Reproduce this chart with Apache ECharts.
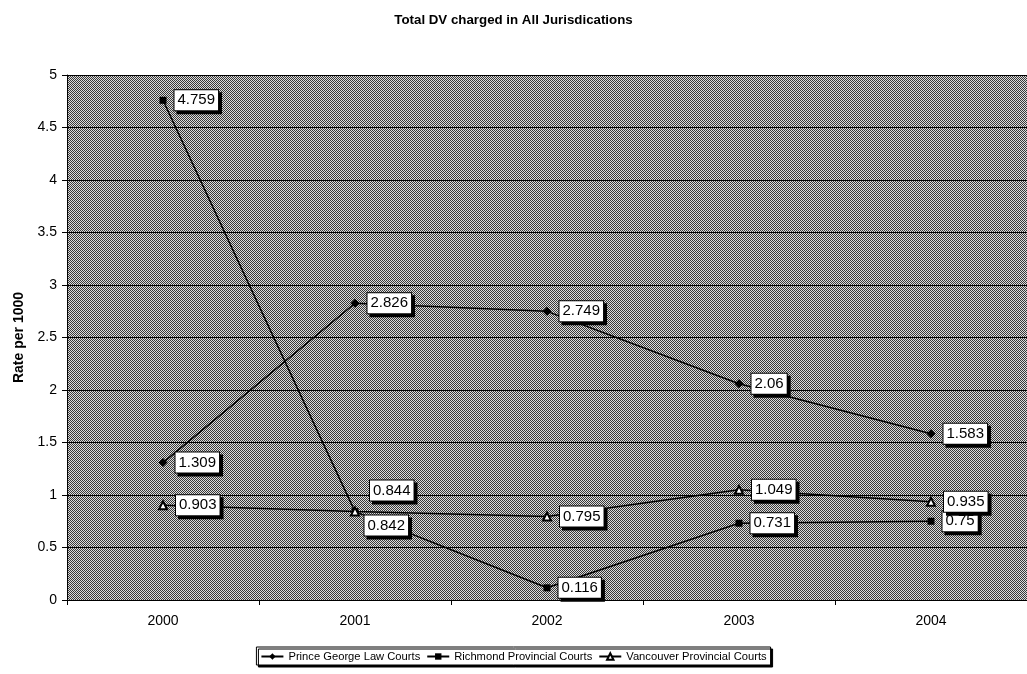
<!DOCTYPE html>
<html>
<head>
<meta charset="utf-8">
<title>Total DV charged in All Jurisdications</title>
<script src="https://cdn.jsdelivr.net/npm/echarts@6/dist/echarts.min.js"></script>
<style>
  html, body { margin: 0; padding: 0; background: #ffffff; }
  #chart { width: 1027px; height: 674px; }
</style>
</head>
<body>
<div id="chart"></div>
<script>
// Years on the category axis
const years = ['2000', '2001', '2002', '2003', '2004'];

// Rate per 1000, by court
const princeGeorge = [1.309, 2.826, 2.749, 2.06, 1.583];
const richmond = [4.759, 0.842, 0.116, 0.731, 0.75];
const vancouver = [0.903, 0.844, 0.795, 1.049, 0.935];

const seriesNames = [
  'Prince George Law Courts',
  'Richmond Provincial Courts',
  'Vancouver Provincial Courts'
];

const FONT = 'Arial, "Liberation Sans", Helvetica, sans-serif';

// Dithered grey fill for the plot area
function ditherPattern() {
  const c = document.createElement('canvas');
  c.width = 4; c.height = 4;
  const g = c.getContext('2d');
  for (let y = 0; y < 4; y++) {
    for (let x = 0; x < 4; x++) {
      g.fillStyle = ((x + y) % 2 === 0) ? '#383838' : '#dcdcdc';
      g.fillRect(x, y, 1, 1);
    }
  }
  return { image: c, repeat: 'repeat' };
}

// White value boxes with a hard drop shadow
const valueLabel = {
  show: true,
  position: 'right',
  distance: 8,
  color: '#000',
  fontFamily: FONT,
  fontSize: 15,
  backgroundColor: '#ffffff',
  borderColor: '#000',
  borderWidth: 1,
  padding: [3, 3, 2, 3],
  shadowColor: '#000',
  shadowBlur: 0,
  shadowOffsetX: 3,
  shadowOffsetY: 3
};

function withLabelOffsets(values, offsets) {
  return values.map((v, i) => {
    if (offsets[i]) {
      return { value: v, label: { offset: offsets[i] } };
    }
    return v;
  });
}

const chart = echarts.init(document.getElementById('chart'), null, { renderer: 'canvas' });

chart.setOption({
  animation: false,
  backgroundColor: '#ffffff',
  title: {
    text: 'Total DV charged in All Jurisdications',
    left: 'center',
    top: 9,
    textStyle: { fontFamily: FONT, fontSize: 13.3, fontWeight: 'bold', color: '#000' }
  },
  grid: {
    left: 67,
    top: 75,
    width: 963,
    height: 525,
    show: true,
    backgroundColor: ditherPattern(),
    borderWidth: 0
  },
  legend: {
    data: seriesNames,
    left: 'center',
    top: 647,
    itemWidth: 22,
    itemHeight: 8,
    itemGap: 6,
    padding: [4, 4, 3, 4],
    borderColor: '#000',
    borderWidth: 1,
    backgroundColor: '#fff',
    shadowColor: '#000',
    shadowBlur: 0,
    shadowOffsetX: 2,
    shadowOffsetY: 2,
    textStyle: { fontFamily: FONT, fontSize: 11.2, color: '#000' }
  },
  xAxis: {
    type: 'category',
    data: years,
    boundaryGap: true,
    axisLine: { lineStyle: { color: '#000', width: 1 } },
    axisTick: { show: true, alignWithLabel: false, length: 5, lineStyle: { color: '#000' } },
    axisLabel: { fontFamily: FONT, fontSize: 14, color: '#000', margin: 14 },
    splitLine: { show: false }
  },
  yAxis: {
    type: 'value',
    min: 0,
    max: 5,
    interval: 0.5,
    name: 'Rate per 1000',
    nameLocation: 'middle',
    nameGap: 41,
    nameRotate: 90,
    nameTextStyle: { fontFamily: FONT, fontSize: 14, fontWeight: 'bold', color: '#000' },
    axisLine: { show: true, lineStyle: { color: '#000', width: 1 } },
    axisTick: { show: true, length: 5, lineStyle: { color: '#000' } },
    axisLabel: { fontFamily: FONT, fontSize: 14, color: '#000', margin: 10 },
    splitLine: { show: true, lineStyle: { color: '#000', width: 1 } }
  },
  series: [
    {
      name: seriesNames[0],
      type: 'line',
      data: princeGeorge,
      symbol: 'diamond',
      symbolSize: 9,
      itemStyle: { color: '#000' },
      lineStyle: { color: '#000', width: 1.5 },
      label: valueLabel,
      z: 3
    },
    {
      name: seriesNames[1],
      type: 'line',
      data: withLabelOffsets(richmond, { 1: [-2, 14] }),
      symbol: 'rect',
      symbolSize: 7,
      itemStyle: { color: '#000' },
      lineStyle: { color: '#000', width: 1.5 },
      label: valueLabel,
      z: 2
    },
    {
      name: seriesNames[2],
      type: 'line',
      data: withLabelOffsets(vancouver, { 1: [2, -21] }),
      symbol: 'emptyTriangle',
      symbolSize: 8,
      itemStyle: { color: '#000', borderWidth: 1 },
      lineStyle: { color: '#000', width: 1.5 },
      label: valueLabel,
      z: 4
    }
  ]
});
</script>
</body>
</html>
